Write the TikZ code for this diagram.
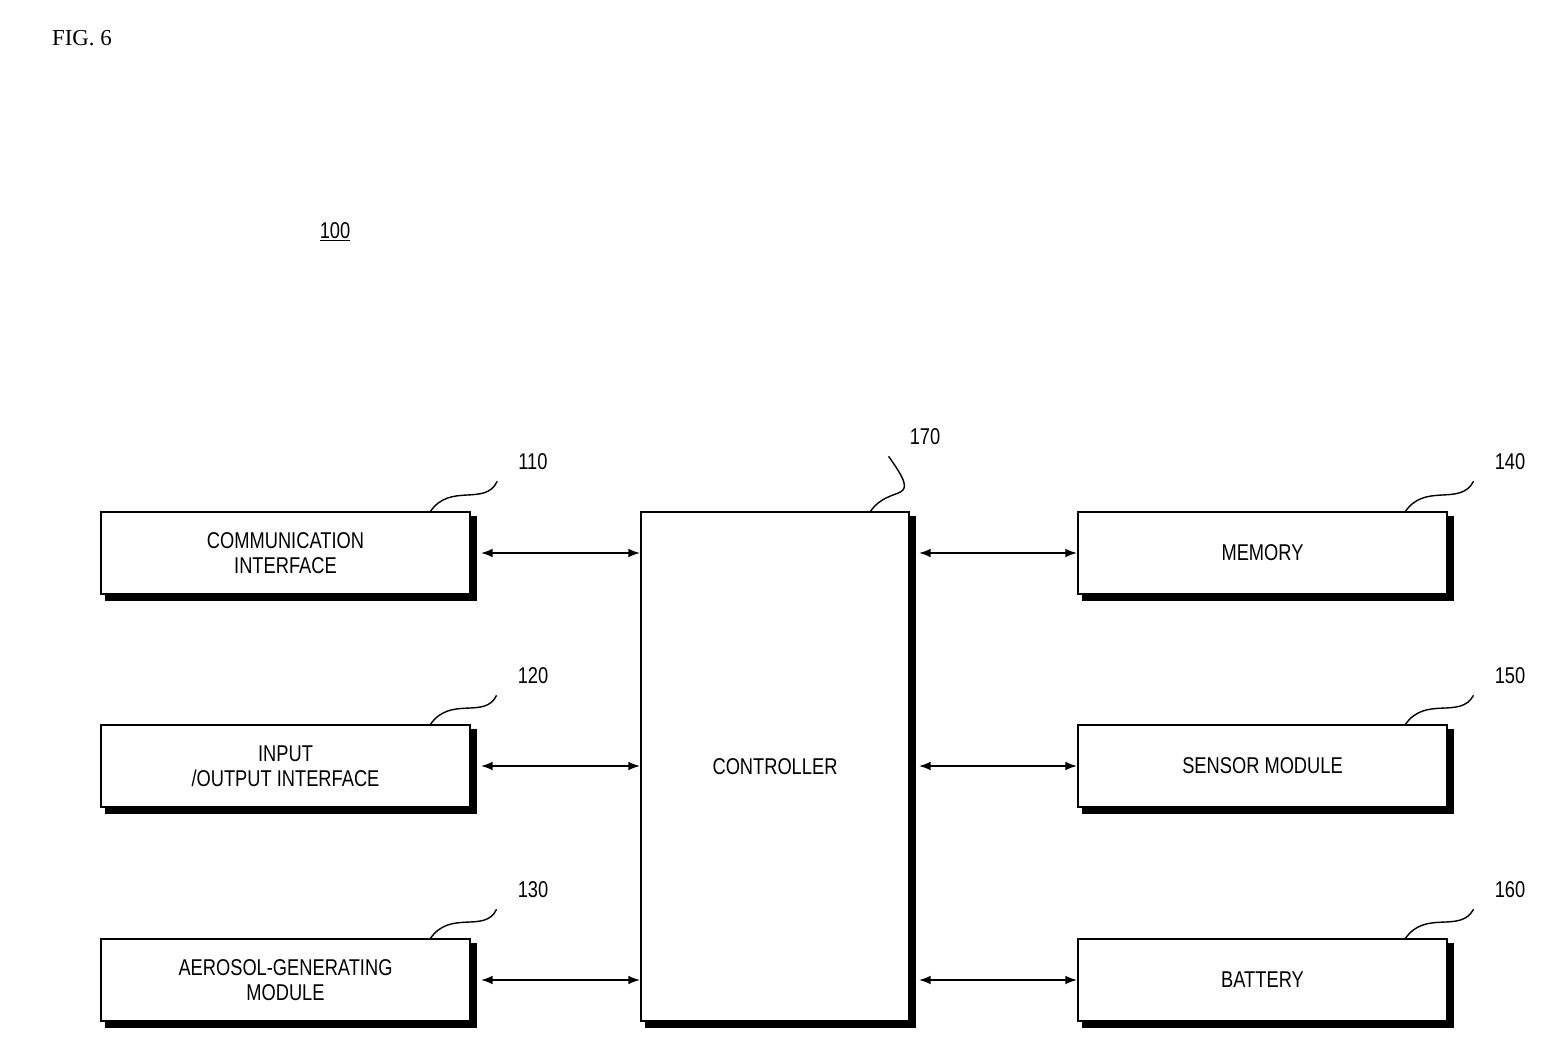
\documentclass[tikz,border=0pt]{standalone}
\usepackage{fontspec}
\setmainfont{Liberation Serif}
\newfontfamily\boxfont{Liberation Sans}[FakeStretch=0.8]
\usetikzlibrary{arrows.meta}
\usetikzlibrary{positioning}
\usetikzlibrary{shadows}

\begin{document}
\begin{tikzpicture}[
		x=0.2mm, y=-0.2mm,
		every node/.style={font=\boxfont\fontsize{13}{14}\selectfont},
		block/.style={rectangle, draw=black, line width=1.2pt, fill=white, inner sep=0pt,
				align=center, minimum width=73.8mm, minimum height=16.4mm,
				copy shadow={shadow xshift=1.1mm, shadow yshift=-1.1mm, fill=black, draw=black}},
		link/.style={Latex-Latex, line width=0.8pt, >={Latex[length=2.2mm,width=1.4mm]}},
		lead/.style={line width=0.8pt},
		refnum/.style={font=\boxfont\fontsize{13}{14}\selectfont}
	]
	\useasboundingbox (0,0) rectangle (1561,1048);

	% titles
	\node[font=\rmfamily\fontsize{13}{14}\selectfont] (fig) at (82,38) {FIG. 6};
	\node (sys) at (335,232) {\underline{100}};

	% left column
	\node[block] (comm) at (285.5,553) {COMMUNICATION\\INTERFACE};
	\node[block] (io) at (285.5,766) {INPUT\\/OUTPUT INTERFACE};
	\node[block] (aero) at (285.5,980) {AEROSOL-GENERATING\\MODULE};

	% controller
	\node[block, minimum width=53.6mm, minimum height=101.8mm] (ctrl) at (775,766.5) {CONTROLLER};

	% right column
	\node[block] (mem) at (1262.5,553) {MEMORY};
	\node[block] (sens) at (1262.5,766) {SENSOR MODULE};
	\node[block] (bat) at (1262.5,980) {BATTERY};

	% connections
	\foreach \a/\b in {comm/mem, io/sens, aero/bat}{
			\draw[link] ([xshift=2mm]\a.east) -- (ctrl.west |- \a.east);
			\draw[link] ([xshift=1.8mm]ctrl.east |- \b.west) -- (\b.west);
		}

	% reference numerals
	\foreach \n/\t/\x/\y/\px/\py in {comm/110/533/462/430/512, io/120/533/676/430/725,
			aero/130/533/890/430/939, mem/140/1510/462/1405/512, sens/150/1510/676/1405/725,
			bat/160/1510/890/1405/939, ctrl/170/925/437/870/512}{
			\node[refnum] (r\t) at (\x,\y) {\t};
			\draw[lead] (\px,\py) .. controls (\px+20,\py-30) and (\px+55,\py-5) .. ([xshift=-3mm,yshift=-1mm]r\t.south west);
		}
\end{tikzpicture}
\end{document}
